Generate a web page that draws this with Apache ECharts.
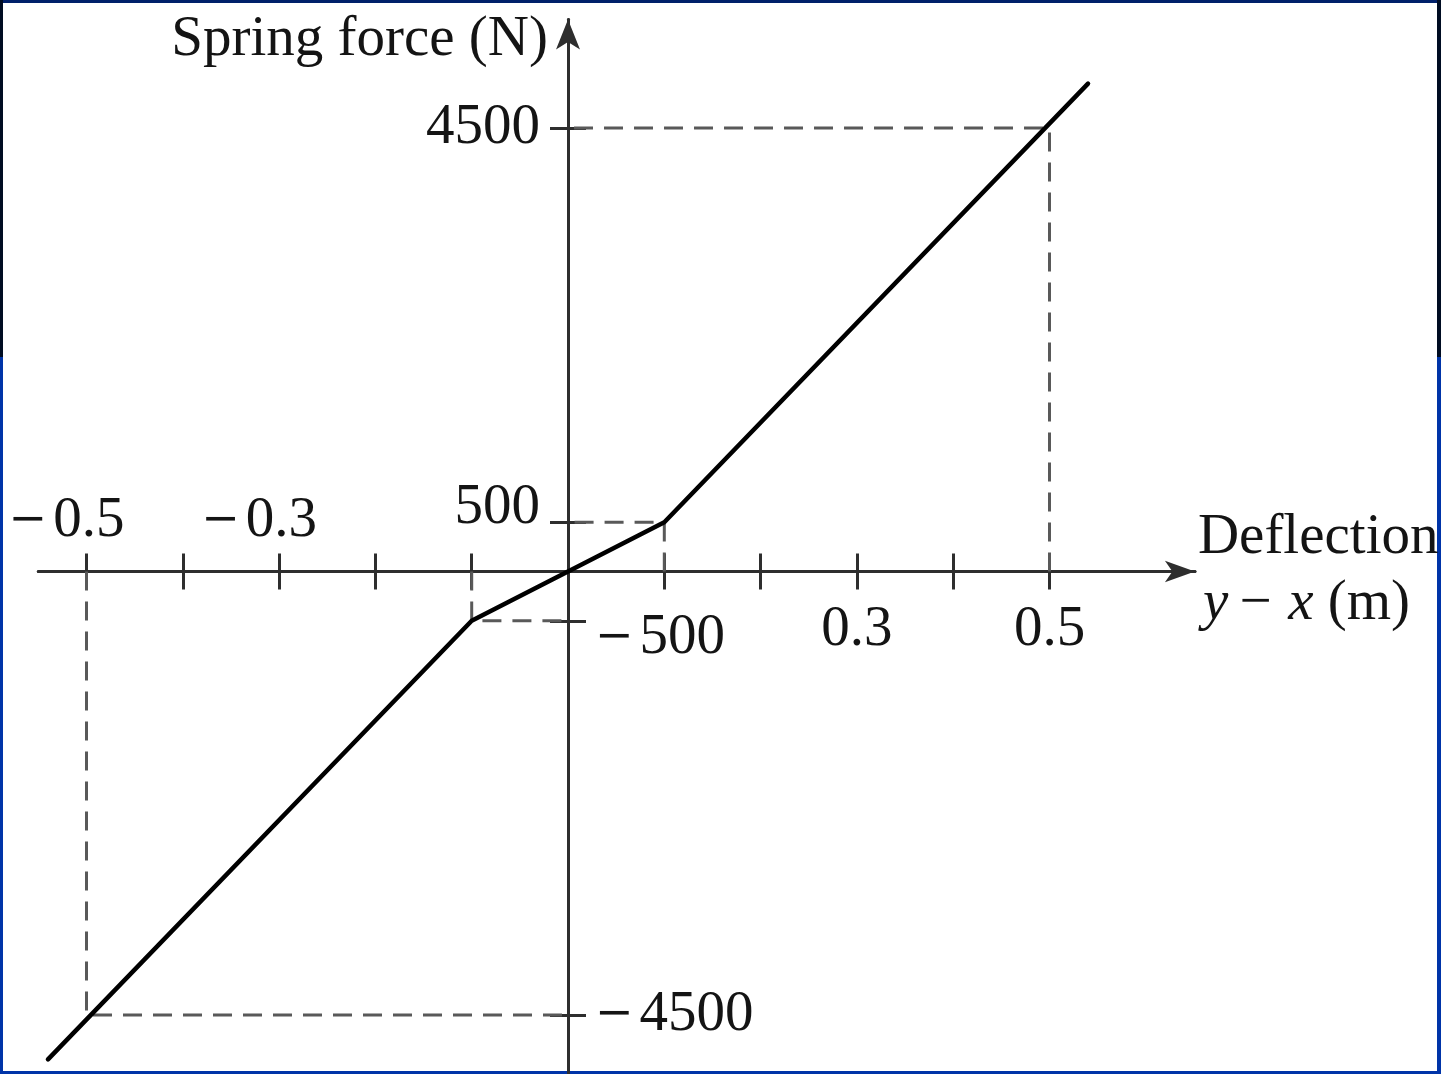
<!DOCTYPE html>
<html>
<head>
<meta charset="utf-8">
<style>
  html, body { margin: 0; padding: 0; background: #ffffff; }
  #chart { width: 1441px; height: 1074px; }
</style>
<script src="https://cdn.jsdelivr.net/npm/echarts@6/dist/echarts.min.js"></script>
</head>
<body>
<div id="chart"></div>
<script>
// Piecewise-linear spring characteristic: deflection (m) vs force (N)
const deflection = [-0.54, -0.1, 0.1, 0.54];
const springForce = [-4950, -500, 500, 4950];

// Knee / reference points marked with dashed guide lines
const guideX = [-0.5, -0.1, 0.1, 0.5];
const guideY = [-4500, -500, 500, 4500];

// Tick positions and which ticks carry labels (and on which side)
const xTickValues = [-0.5, -0.4, -0.3, -0.2, -0.1, 0.1, 0.2, 0.3, 0.4, 0.5];
const xLabelsAbove = [-0.5, -0.3];
const xLabelsBelow = [0.3, 0.5];
const yTickValues = [-4500, -500, 500, 4500];
const yLabelsLeft = [500, 4500];
const yLabelsRight = [-4500, -500];

const SERIF = '"Liberation Serif", "Times New Roman", serif';
const INK = '#141414';
const AXIS = '#2e2e2e';
const FS = 57;

// x scale: 963 px per metre, origin at x = 568
// y scale: 0.09856 px per newton, origin at y = 571.5
const W = 1441, H = 1074;
const X0 = 568, Y0 = 571.5;
const X_MIN = -0.55, X_MAX = 0.651;
const Y_MIN = -5100, Y_MAX = 5600;
const PX_X = 963, PX_Y = 0.09856;
const gridLeft = X0 + X_MIN * PX_X;
const gridWidth = (X_MAX - X_MIN) * PX_X;
const gridTop = Y0 - Y_MAX * PX_Y;
const gridHeight = (Y_MAX - Y_MIN) * PX_Y;
const gridRightEdge = gridLeft + gridWidth;
const gridBottomEdge = gridTop + gridHeight;

// Axes are pulled in from the grid edges so that they cross at the origin
const offBottom = -(gridBottomEdge - Y0);
const offTop = -(Y0 - gridTop);
const offLeft = -(X0 - gridLeft);
const offRight = -(gridRightEdge - X0);

const baseText = { fontFamily: SERIF, fontSize: FS, color: INK };
// A long typeset minus sign, drawn as its own rich-text token
const minusText = { fontFamily: '"DejaVu Serif", serif', fontSize: 46, color: INK, padding: [0, 6, 0, 0] };

// Label text for a tick value; negative values get the minus token, wrapped in style `s`
const fmt = (v, s) => (v < 0 ? '{m|\u2212}' : '') + '{' + s + '|' + String(Math.abs(v)) + '}';

function pts(xs, ys) { return xs.map((x, i) => [x, ys[i]]); }

const guideSeries = guideX.map((gx, i) => ({
  type: 'line',
  data: [[gx, 0], [gx, guideY[i]], [0, guideY[i]]],
  symbol: 'none',
  silent: true,
  z: 2,
  lineStyle: { color: '#595959', width: 3, type: [19, 11] }
}));

const tickStyle = { show: true, length: 18, lineStyle: { color: AXIS, width: 3 } };

const chart = echarts.init(document.getElementById('chart'), null, { renderer: 'canvas' });

chart.setOption({
  animation: false,
  backgroundColor: '#ffffff',
  grid: {
    left: gridLeft,
    top: gridTop,
    width: gridWidth,
    height: gridHeight,
    containLabel: false,
    outerBoundsMode: 'none'
  },
  xAxis: [
    {
      type: 'value', min: X_MIN, max: X_MAX, position: 'bottom', offset: offBottom,
      axisLine: {
        show: true, onZero: false,
        symbol: ['none', 'arrow'], symbolSize: [16, 30],
        lineStyle: { color: AXIS, width: 3 }
      },
      axisTick: { ...tickStyle, customValues: xTickValues },
      axisLabel: {
        show: true, customValues: xLabelsBelow, margin: 30,
        formatter: v => fmt(v, 'n'), ...baseText,
        rich: { n: { ...baseText }, m: minusText }
      },
      splitLine: { show: false },
      name: '{a|Deflection}\n{i|y}{r|\u2009\u2212\u2009}{i|x}{r| (m)}',
      nameLocation: 'end',
      nameGap: 3,
      nameTextStyle: {
        align: 'left', verticalAlign: 'middle', lineHeight: 66,
        ...baseText,
        rich: {
          a: { ...baseText, lineHeight: 66 },
          r: { ...baseText, lineHeight: 66 },
          i: { ...baseText, fontStyle: 'italic', lineHeight: 66, padding: [0, 0, 0, 5] }
        }
      }
    },
    {
      type: 'value', min: X_MIN, max: X_MAX, position: 'top', offset: offTop,
      axisLine: { show: true, onZero: false, lineStyle: { color: AXIS, width: 3 } },
      axisTick: { ...tickStyle, customValues: xTickValues },
      axisLabel: {
        show: true, customValues: xLabelsAbove, margin: 22,
        formatter: v => fmt(v, 'n') + '{gap| }',
        ...baseText,
        rich: { n: { ...baseText }, m: minusText, gap: { ...baseText, width: 40 } }
      },
      splitLine: { show: false }
    }
  ],
  yAxis: [
    {
      type: 'value', min: Y_MIN, max: Y_MAX, position: 'left', offset: offLeft,
      axisLine: {
        show: true, onZero: false,
        symbol: ['none', 'arrow'], symbolSize: [18, 30],
        lineStyle: { color: AXIS, width: 3 }
      },
      axisTick: { ...tickStyle, customValues: yTickValues },
      axisLabel: {
        show: true, customValues: yLabelsLeft, margin: 28,
        formatter: v => fmt(v, v === 500 ? 'up' : 'n'),
        ...baseText,
        rich: {
          n: { ...baseText },
          m: minusText,
          up: { ...baseText, padding: [0, 0, 28, 0] }
        }
      },
      splitLine: { show: false },
      name: 'Spring force (N)',
      nameLocation: 'end',
      nameGap: -20,
      nameTextStyle: { ...baseText, align: 'right', verticalAlign: 'middle', padding: [0, 20, 0, 0] }
    },
    {
      type: 'value', min: Y_MIN, max: Y_MAX, position: 'right', offset: offRight,
      axisLine: { show: true, onZero: false, lineStyle: { color: AXIS, width: 3 } },
      axisTick: { ...tickStyle, customValues: yTickValues },
      axisLabel: {
        show: true, customValues: yLabelsRight, margin: 27,
        formatter: v => v === -500 ? '{pad| }\n' + fmt(v, 'n') : fmt(v, 'n'),
        ...baseText,
        rich: {
          n: { ...baseText },
          m: minusText,
          pad: { ...baseText, fontSize: 10, lineHeight: 34 }
        }
      },
      splitLine: { show: false }
    }
  ],
  series: [
    ...guideSeries,
    {
      type: 'line',
      data: pts(deflection, springForce),
      symbol: 'none',
      silent: true,
      z: 5,
      lineStyle: { color: '#000000', width: 4.5, cap: 'round', join: 'round' }
    }
  ],
  graphic: [
    { type: 'rect', shape: { x: 0, y: 0, width: W, height: 3 }, style: { fill: '#00206a' }, silent: true },
    { type: 'rect', shape: { x: 0, y: 0, width: 3, height: 357 }, style: { fill: '#000c22' }, silent: true },
    { type: 'rect', shape: { x: 0, y: 357, width: 3, height: H - 357 }, style: { fill: '#0034a8' }, silent: true },
    { type: 'rect', shape: { x: W - 4, y: 0, width: 4, height: 357 }, style: { fill: '#000c22' }, silent: true },
    { type: 'rect', shape: { x: W - 4, y: 357, width: 4, height: H - 357 }, style: { fill: '#0034a8' }, silent: true },
    { type: 'rect', shape: { x: 0, y: H - 3, width: W, height: 3 }, style: { fill: '#0034a8' }, silent: true }
  ]
});
</script>
</body>
</html>
